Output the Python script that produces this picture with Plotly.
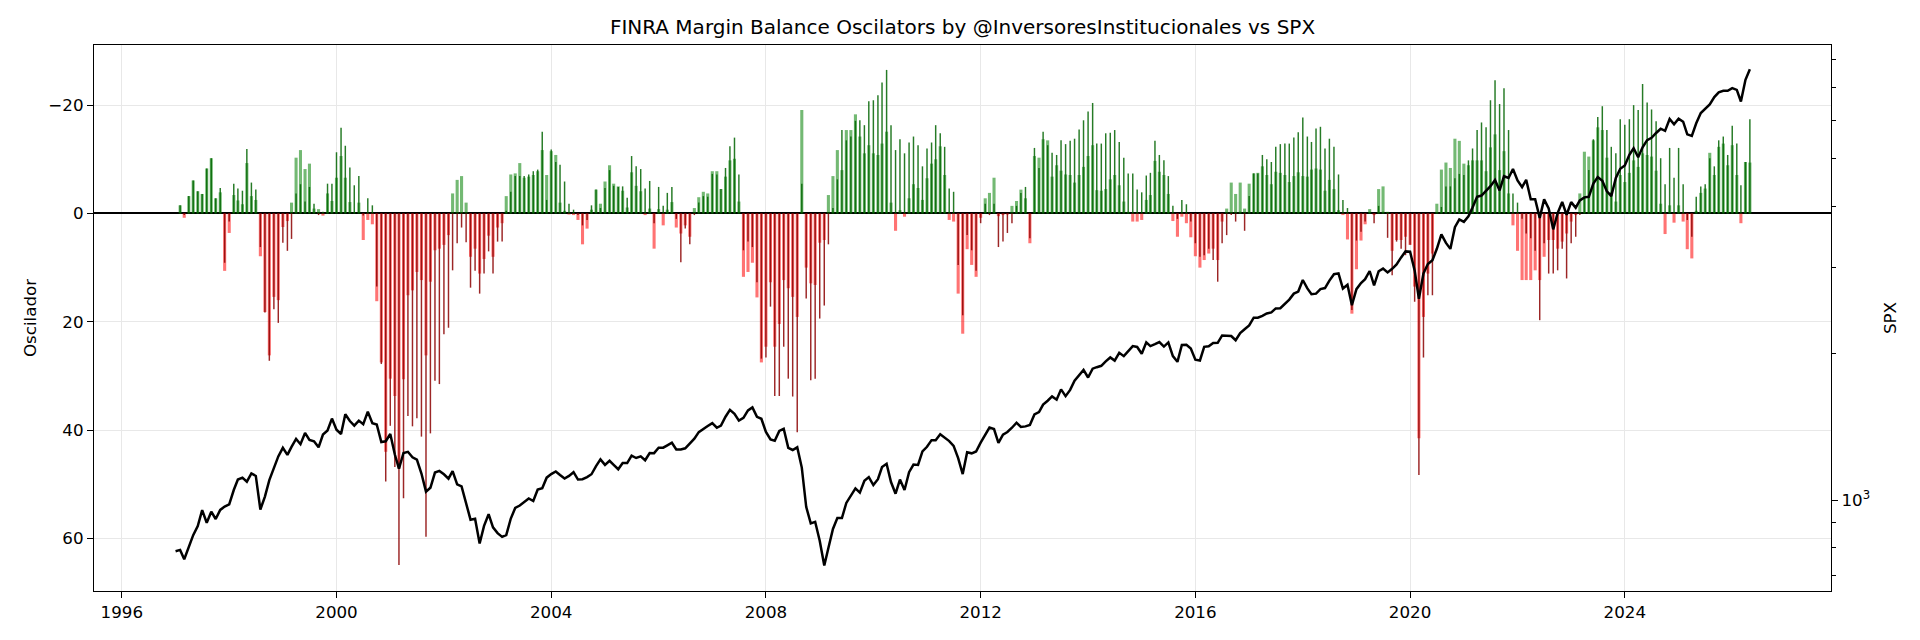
import pandas as pd
import plotly.graph_objects as go

# ---------------- data ----------------
dates = pd.date_range("1997-01-01", periods=353, freq="MS")

spx = [
    786, 791, 757, 801, 848, 885, 954, 899, 947, 915, 955, 970,
    980, 1049, 1102, 1112, 1091, 1134, 1121, 957, 1017, 1099, 1164, 1229,
    1280, 1238, 1286, 1335, 1302, 1373, 1329, 1320, 1283, 1363, 1389, 1469,
    1394, 1366, 1499, 1452, 1421, 1455, 1431, 1518, 1437, 1429, 1315, 1320,
    1366, 1240, 1160, 1249, 1256, 1224, 1211, 1134, 1041, 1060, 1139, 1148,
    1130, 1107, 1147, 1077, 1067, 990, 912, 916, 815, 886, 936, 880,
    856, 841, 848, 917, 964, 975, 990, 1008, 996, 1051, 1058, 1112,
    1131, 1145, 1126, 1107, 1121, 1141, 1102, 1104, 1115, 1130, 1174, 1212,
    1181, 1204, 1181, 1157, 1192, 1191, 1234, 1220, 1229, 1207, 1249, 1248,
    1280, 1281, 1295, 1311, 1270, 1270, 1277, 1304, 1336, 1378, 1401, 1418,
    1438, 1407, 1421, 1482, 1531, 1503, 1455, 1474, 1527, 1549, 1481, 1468,
    1379, 1331, 1323, 1386, 1400, 1280, 1267, 1283, 1166, 969, 896, 903,
    826, 735, 798, 873, 919, 919, 987, 1021, 1057, 1036, 1096, 1115,
    1074, 1104, 1169, 1187, 1089, 1031, 1102, 1049, 1141, 1183, 1181, 1258,
    1286, 1327, 1326, 1364, 1345, 1321, 1292, 1219, 1131, 1253, 1247, 1258,
    1312, 1366, 1408, 1398, 1310, 1362, 1379, 1407, 1441, 1412, 1416, 1426,
    1498, 1515, 1569, 1598, 1631, 1606, 1686, 1633, 1682, 1757, 1806, 1848,
    1783, 1859, 1872, 1884, 1924, 1960, 1931, 2003, 1972, 2018, 2068, 2059,
    1995, 2105, 2068, 2086, 2107, 2063, 2104, 1972, 1920, 2079, 2080, 2044,
    1940, 1932, 2060, 2065, 2097, 2099, 2174, 2171, 2168, 2126, 2199, 2239,
    2279, 2364, 2363, 2384, 2412, 2423, 2470, 2472, 2519, 2575, 2648, 2674,
    2824, 2714, 2641, 2648, 2705, 2718, 2816, 2902, 2914, 2712, 2760, 2507,
    2704, 2784, 2834, 2946, 2752, 2942, 2980, 2926, 2977, 3038, 3141, 3231,
    3226, 2954, 2585, 2912, 3044, 3100, 3271, 3500, 3363, 3270, 3622, 3756,
    3714, 3811, 3973, 4181, 4204, 4298, 4395, 4523, 4308, 4605, 4567, 4766,
    4516, 4374, 4530, 4132, 4132, 3785, 4130, 3955, 3586, 3872, 4080, 3840,
    4077, 3970, 4109, 4169, 4180, 4450, 4589, 4508, 4288, 4194, 4568, 4770,
    4846, 5096, 5254, 5036, 5278, 5460, 5522, 5648, 5762, 5705, 6032, 5882,
    6041, 5955, 5612, 5569, 5912, 6205, 6339, 6460, 6688, 6840, 6888, 6888,
    6976, 6921, 6550, 7255, 7630,
]

osc_light = [
    None,
    -1.5, 0.8, -3.2, -6.1, -4.1, -3.6, -8.3, -10.2, -2.8, -3.9,
    10.6, 3.6, -3.4, -2.4, -1.7, -9.3, -3.2, -2.5, 7.9, 18.2,
    26.2, 15.4, 16.0, 2.5, 1.4, -2.0, -10.3, -11.7, -8.2, -9.2,
    -0.9, -0.8, 0.4, -3.7, -2.3, -6.6, -10.6, -6.6, -2.1, -0.2,
    -2.0, 4.9, 1.2, 2.0, 16.2, 27.5, 44.0, 30.5, 33.7, 47.1,
    30.6, 15.1, 14.2, 10.8, 12.3, 26.2, 12.6, 6.8, 6.5, 5.8,
    4.0, -3.7, -6.2, -6.9, -2.0, 8.0, 6.5, 11.1, 8.4, 4.1,
    8.0, 2.6, 1.8, -3.2, -7.2, -7.4, -9.3, -6.6, -6.8, -7.1,
    -7.8, -11.7, -7.1, -11.5, -10.8, -2.0, -0.5, 0.2, 0.3, 1.2,
    5.7, 2.8, -0.7, -4.4, -1.8, -5.9, -8.9, -5.5, -5.0, -4.2,
    -1.1, -7.6, -5.1, -4.1, 0.3, -0.9, 6.5, -0.8, 2.2, -0.7,
    -2.1, 2.6, 3.7, 2.2, 4.3, -1.0, -3.0, -4.0, -3.7, -7.8,
    -7.8, -4.5, -6.8, -9.8, -10.1, -2.2, 11.7, 10.8, 9.1, 15.5,
    27.5, 24.6, 12.7, 24.6, 20.4, 12.3, 13.8, 15.4, 19.1, -19.1,
    10.0, 12.9, 13.2, 5.4, 4.9, -3.4, -6.9, -11.7, -8.0, -15.4,
    -15.4, -18.3, -14.2, -11.1, -12.6, -11.1, -10.8, -12.9, -15.1, -2.0,
    3.2, -0.6, 0.6, -2.8, -5.4, -4.7, -2.5, -6.5, -9.2, -10.0,
    -12.4, -7.1, 1.2, 1.5, 14.8, 22.2, 6.6, 9.5, 11.7, 0.8,
    -2.8, -3.8, -6.6, 0.5, 0.3, 0.2, -1.4, -2.3, -4.4, -2.8,
    5.5, -10.6, -10.3, -13.7, -13.5, -6.8, -8.9, -7.9, -7.2, -7.1,
    -5.7, -7.1, -8.6, -10.6, -12.6, -4.3, -4.2, -4.5, -6.3, -7.1,
    -5.2, -2.2, -0.3, 1.5, 1.5, 1.2, -2.5, -3.4, -9.7, -7.7,
    -7.1, -3.6, 1.4, 4.3, 0.6, 1.8, 4.4, 7.9, 10.0, 8.6,
    7.4, 6.5, 8.6, 1.5, -0.9, -5.7, -3.6, -5.7, -0.9, -5.5,
    -7.4, -7.5, -8.7, -7.1, -5.4, -7.7, -7.5, -7.1, -5.8, -6.9,
    -7.6, -6.9, -6.8, -8.1, -8.3, -8.1, -4.2, -6.2, -4.5, -0.6,
    0.3, 4.8, 18.5, 10.3, 5.0, 2.0, -0.8, 0.3, -4.5, -5.0,
    -0.3, 6.9, 4.9, 4.9, 4.3, 5.8, 13.5, 41.5, 19.1, 11.1,
    7.4, -1.8, -8.1, -9.4, -8.4, -13.8, -13.4, -9.2, -8.9, -9.8,
    -9.8, -9.8, -7.8, -12.2, -14.6, -8.0, -11.5, -3.7, 2.2, 6.9,
    12.3, 12.3, 12.3, 10.5, 12.3, 8.0, 4.9, 4.9, 6.5, 5.2,
    3.7, 1.5, 0.3, -3.7, -11.4, -10.5, -13.5, -15.9, -15.4, -10.3,
    -4.0, -2.2, -7.1, -5.8, -7.5, -9.8, -8.6, -11.1, -10.8, -10.5,
    -7.9, -1.8, 3.8, -1.5, 1.7, -1.5, 1.5, 6.6, 8.3, -0.5,
    -3.8, -4.6, -11.2, -7.1, -12.3, -12.9, -8.9, -12.6, -7.1, 1.8,
    -9.5, -9.4,
]

osc_dark = [
    None,
    -1.5, 0.3, -3.2, -6.1, -4.1, -3.6, -8.3, -10.2, -2.8, -4.7,
    9.1, 1.5, -5.5, -4.6, -4.2, -11.9, -5.7, -4.4, 6.2, 18.3,
    27.2, 17.7, 20.2, 5.4, 6.9, 4.7, -3.7, -5.4, -2.2, -4.9,
    -1.8, 0.3, -0.3, -5.5, -5.5, -11.3, -15.8, -12.5, -8.5, -5.2,
    -6.9, 0.4, -2.8, -1.5, 13.5, 27.8, 49.5, 39.2, 46.8, 64.9,
    52.6, 37.4, 39.3, 37.8, 41.2, 59.7, 40.6, 30.9, 31.5, 22.3,
    21.1, 10.5, 5.5, 2.6, 5.3, 13.7, 10.6, 14.8, 11.1, 7.0,
    11.1, 5.2, 5.2, -0.5, -4.0, -6.9, -6.9, -6.9, -7.2, -7.8,
    -8.1, -15.1, -2.5, -11.8, -9.5, -9.0, -5.9, -1.8, -0.7, 0.3,
    2.2, 1.2, -1.5, -4.4, -1.0, -4.7, -8.0, -5.1, -4.9, -5.0,
    -2.9, -10.6, -8.7, -8.2, -4.6, -6.0, 1.8, -4.9, -1.4, -3.8,
    -4.9, 1.0, 9.0, 2.8, 5.7, 0.3, -2.0, -3.2, -3.1, -7.3,
    -7.2, -4.5, -8.4, -12.4, -14.0, -7.2, 6.8, 5.2, 6.2, 12.7,
    26.8, 26.6, 17.2, 33.7, 33.7, 24.6, 30.5, 33.8, 40.4, -5.5,
    15.7, 30.8, 30.5, 19.4, 17.0, 5.7, -1.0, -6.3, -15.4, -13.5,
    -14.2, -17.1, -17.2, -16.3, -20.7, -20.9, -21.8, -24.2, -26.5, -16.3,
    -11.7, -13.7, -11.1, -13.1, -14.2, -12.6, -8.7, -12.0, -13.1, -16.3,
    -14.8, -12.3, -4.6, -4.0, 9.5, 18.8, 4.0, 6.8, 10.6, 1.8,
    -1.8, 0.3, -1.8, 6.2, 5.2, 3.6, 1.8, -1.4, -3.8, -4.9,
    4.6, -12.1, -8.4, -15.1, -12.6, -11.2, -10.8, -13.5, -12.8, -13.4,
    -13.8, -15.5, -17.2, -18.8, -20.4, -12.9, -12.9, -14.8, -14.9, -15.4,
    -13.2, -10.3, -7.4, -7.4, -4.4, -3.9, -7.0, -7.5, -13.4, -10.8,
    -9.8, -6.9, -1.4, 1.0, -2.5, -1.7, 1.5, 5.5, 8.0, 7.7,
    6.5, 8.6, 12.6, 5.5, 4.0, 0.3, 1.5, -0.3, 3.2, -3.2,
    -7.4, -7.4, -10.8, -10.0, -9.5, -12.3, -12.8, -12.9, -12.9, -14.0,
    -15.0, -17.7, -14.2, -13.2, -15.7, -16.0, -12.0, -13.8, -12.3, -7.2,
    -2.5, -1.0, 17.8, 5.0, 3.4, 1.5, -0.3, 1.8, -1.4, -0.3,
    4.5, 11.4, 5.2, 6.5, 7.7, 5.8, 16.3, 48.3, 26.6, 15.1,
    15.1, -0.2, -1.2, -5.0, -5.0, -6.5, -7.3, -7.1, -9.8, -12.0,
    -15.4, -16.8, -15.9, -20.9, -24.6, -20.2, -23.1, -15.4, -3.7, -2.0,
    1.0, 3.7, 4.6, 6.9, 19.7, 5.5, 11.1, 11.1, 10.5, 6.5,
    12.0, 5.5, 4.3, 0.3, -3.1, -8.0, -13.7, -17.8, -19.8, -15.4,
    -12.3, -11.1, -17.4, -16.4, -17.4, -20.0, -19.1, -23.9, -20.5, -19.2,
    -17.0, -10.2, -5.4, -12.1, -6.6, -12.1, -5.4, 1.2, 4.3, -3.1,
    -5.0, -5.4, -10.2, -8.7, -13.5, -14.2, -10.8, -16.2, -12.9, -5.2,
    -9.5, -17.4,
]

year_ticks = [1996, 2000, 2004, 2008, 2012, 2016, 2020, 2024]
osc_ticks = [-20, 0, 20, 40, 60]
osc_tick_text = ["\u221220", "0", "20", "40", "60"]
spx_minor_ticks = [700, 800, 900, 2000, 3000, 4000, 5000, 6000, 7000, 8000]

# ---------------- styling ----------------
DAY = 86400000
LIGHT_G = "rgba(0,128,0,0.55)"
LIGHT_R = "rgba(255,0,0,0.55)"
DARK_G = "rgba(0,100,0,0.85)"
DARK_R = "rgba(139,0,0,0.85)"
GRID = "rgb(232,232,232)"
FONT = "DejaVu Sans"


def sign_colors(vals, neg, pos):
    return [neg if (v is not None and v < 0) else pos for v in vals]


fig = go.Figure()
fig.add_trace(go.Bar(
    x=dates, y=osc_light, width=21 * DAY,
    marker=dict(color=sign_colors(osc_light, LIGHT_G, LIGHT_R), line=dict(width=0)),
    yaxis="y", name="osc1",
))
fig.add_trace(go.Bar(
    x=dates, y=osc_dark, width=10 * DAY,
    marker=dict(color=sign_colors(osc_dark, DARK_G, DARK_R), line=dict(width=0)),
    yaxis="y", name="osc2",
))
fig.add_trace(go.Scatter(
    x=dates, y=spx, mode="lines", line=dict(color="black", width=2.5),
    yaxis="y2", name="SPX",
))

axis_common = dict(
    showline=True, linecolor="black", linewidth=1.3,
    ticks="outside", ticklen=6, tickwidth=1.3, tickcolor="black",
    tickfont=dict(family=FONT, size=16.7, color="black"),
)

fig.update_layout(
    template="none",
    width=1920, height=640,
    margin=dict(l=94, r=89, t=45, b=49),
    paper_bgcolor="white", plot_bgcolor="white",
    font=dict(family=FONT, size=16.7, color="black"),
    showlegend=False,
    barmode="overlay",
    title=dict(
        text="FINRA Margin Balance Oscilators by @InversoresInstitucionales vs SPX",
        x=0.5013, xanchor="center", y=1 - 27 / 640, yanchor="middle",
        font=dict(family=FONT, size=20, color="black"),
    ),
    xaxis=dict(
        type="date",
        range=["1995-06-26", "2027-11-04"],
        tickvals=[f"{y}-01-01" for y in year_ticks],
        ticktext=[str(y) for y in year_ticks],
        showgrid=True, gridcolor=GRID, gridwidth=1.3,
        mirror=True, zeroline=False,
        **axis_common,
    ),
    yaxis=dict(
        range=[69.7, -31.1],
        tickvals=osc_ticks, ticktext=osc_tick_text,
        showgrid=True, gridcolor=GRID, gridwidth=1.3,
        zeroline=True, zerolinecolor="black", zerolinewidth=1.6,
        mirror=True,
        title=dict(text="Oscilador", standoff=7,
                   font=dict(family=FONT, size=16.7, color="black")),
        **axis_common,
    ),
    yaxis2=dict(
        overlaying="y", side="right", type="log",
        range=[2.814, 3.932],
        tickvals=[1000], ticktext=["10<sup>3</sup>"],
        minor=dict(tickvals=spx_minor_ticks, ticks="outside", ticklen=3.5,
                   tickwidth=1, tickcolor="black", showgrid=False),
        showgrid=False, zeroline=False,
        title=dict(text="SPX", standoff=15,
                   font=dict(family=FONT, size=16.7, color="black")),
        **axis_common,
    ),
)

fig.write_html("out.html")
